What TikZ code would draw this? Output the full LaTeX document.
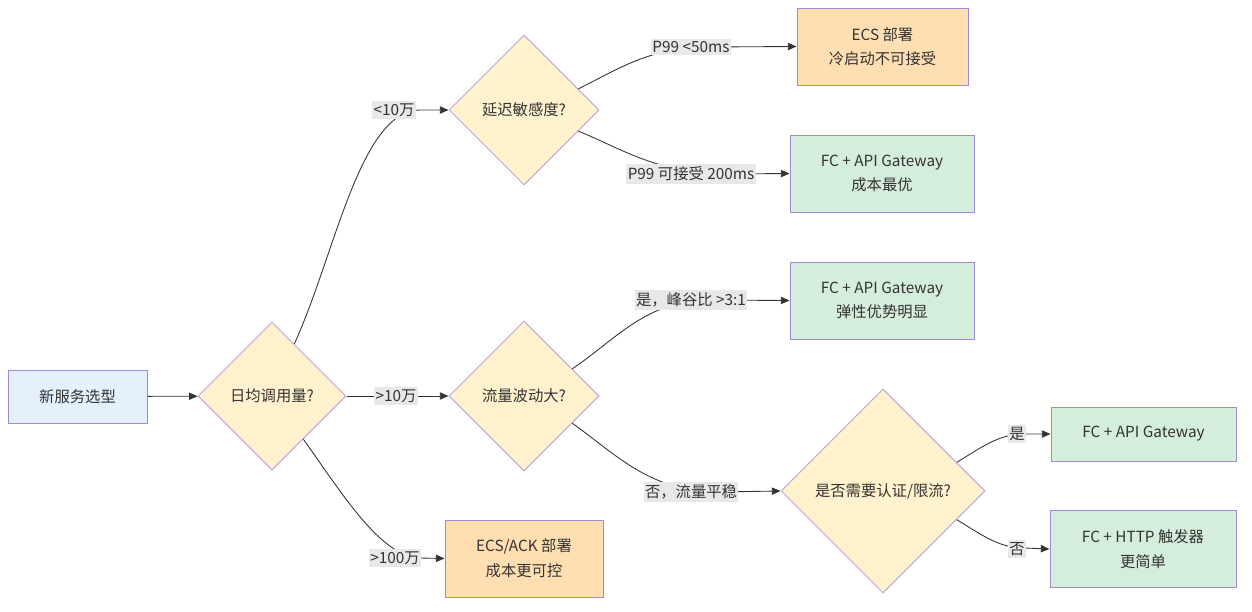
\documentclass[tikz,border=0pt]{standalone}
\usepackage{fontspec}
\setmainfont{Noto Sans CJK SC}
\usetikzlibrary{shapes.geometric,arrows.meta,calc}
\definecolor{txt}{HTML}{333333}
\definecolor{bluefill}{HTML}{E4F1FD}
\definecolor{yelfill}{HTML}{FFF2CC}
\definecolor{orgfill}{HTML}{FFDFB2}
\definecolor{grnfill}{HTML}{D5EEDB}
\definecolor{boxline}{HTML}{9F8AD6}
\definecolor{dialine}{HTML}{BFA6DC}
\definecolor{lblbg}{HTML}{E8E8E8}
\definecolor{edgecol}{HTML}{333333}
\tikzset{
  base/.style={text=txt, font=\fontsize{11.5}{18.5}\selectfont, align=center},
  boxnode/.style={base, draw=boxline, line width=0.75pt, rectangle, inner sep=0pt},
  decision/.style={base, draw=dialine, line width=0.75pt, diamond, aspect=1, fill=yelfill, inner sep=0pt},
  elabel/.style={base, fill=lblbg, inner xsep=1pt, inner ysep=2pt},
  conn/.style={draw=edgecol, line width=0.65pt, -{Triangle[length=6.5pt,width=5.5pt]}}
}
\begin{document}
\begin{tikzpicture}[x=0.75pt,y=-0.75pt]
\useasboundingbox (0,0) rectangle (1252,611);
% nodes
\node[boxnode, fill=bluefill, minimum width=104.25pt, minimum height=39.75pt] (start) at (77.5,396.5) {新服务选型};
\node[decision, minimum width=111pt, minimum height=111pt] (d1) at (272,396) {日均调用量?};
\node[decision, minimum width=112.5pt, minimum height=112.5pt] (d2) at (524,110) {延迟敏感度?};
\node[decision, minimum width=112.5pt, minimum height=112.5pt] (d3) at (524,396) {流量波动大?};
\node[decision, minimum width=153pt, minimum height=153pt] (d4) at (883,491) {是否需要认证/限流?};
\node[boxnode, fill=orgfill, minimum width=128.25pt, minimum height=57.75pt] (ecs) at (882.5,46.5) {ECS 部署\\冷启动不可接受};
\node[boxnode, fill=grnfill, minimum width=138pt, minimum height=57.75pt] (fc1) at (882,173.5) {FC + API Gateway\\成本最优};
\node[boxnode, fill=grnfill, minimum width=138pt, minimum height=57.75pt] (fc2) at (882,300.5) {FC + API Gateway\\弹性优势明显};
\node[boxnode, fill=orgfill, minimum width=118.5pt, minimum height=57.75pt] (ecsack) at (524,558.5) {ECS/ACK 部署\\成本更可控};
\node[boxnode, fill=grnfill, minimum width=138.75pt, minimum height=40.5pt] (fc3) at (1143.5,434) {FC + API Gateway};
\node[boxnode, fill=grnfill, minimum width=139.5pt, minimum height=57.75pt] (fc4) at (1143,549) {FC + HTTP 触发器\\更简单};
% exit points
\coordinate (d1a) at ($(d1.north)!0.3!(d1.east)$);
\coordinate (d1b) at ($(d1.east)!0.58!(d1.south)$);
\coordinate (d2a) at ($(d2.north)!0.72!(d2.east)$);
\coordinate (d2b) at ($(d2.east)!0.28!(d2.south)$);
\coordinate (d3a) at ($(d3.north)!0.64!(d3.east)$);
\coordinate (d3b) at ($(d3.east)!0.36!(d3.south)$);
\coordinate (d4a) at ($(d4.north)!0.72!(d4.east)$);
\coordinate (d4b) at ($(d4.east)!0.28!(d4.south)$);
% connectors
\draw[conn] (start) -- (d1);
\draw[conn] (d1a) .. controls (335,255) and (360,110) .. (420,110) -- (d2.west);
\draw[conn] (d1.east) -- (d3.west);
\draw[conn] (d1b) .. controls (340,490) and (380,557) .. (420,558) -- (ecsack.west);
\draw[conn] (d2a) .. controls (620,68) and (650,48) .. (705,47) -- (ecs.west);
\draw[conn] (d2b) .. controls (620,148) and (655,172) .. (720,174) -- (fc1.west);
\draw[conn] (d3a) .. controls (615,340) and (645,302) .. (705,300) -- (fc2.west);
\draw[conn] (d3b) .. controls (620,458) and (650,490) .. (715,492) -- (d4.west);
\draw[conn] (d4a) .. controls (985,445) and (1000,434) .. (1025,434) -- (fc3.west);
\draw[conn] (d4b) .. controls (985,537) and (1000,548) .. (1025,548) -- (fc4.west);
% edge labels
\node[elabel] (l1) at (394,110) {<10万};
\node[elabel] (l2) at (396,396) {>10万};
\node[elabel] (l3) at (395,558) {>100万};
\node[elabel] (l4) at (691,47) {P99 <50ms};
\node[elabel] (l5) at (691,174) {P99 可接受 200ms};
\node[elabel] (l6) at (691,300) {是，峰谷比 >3:1};
\node[elabel] (l7) at (691,492) {否，流量平稳};
\node[elabel] (l8) at (1017,434) {是};
\node[elabel] (l9) at (1017,549) {否};
\end{tikzpicture}
\end{document}
